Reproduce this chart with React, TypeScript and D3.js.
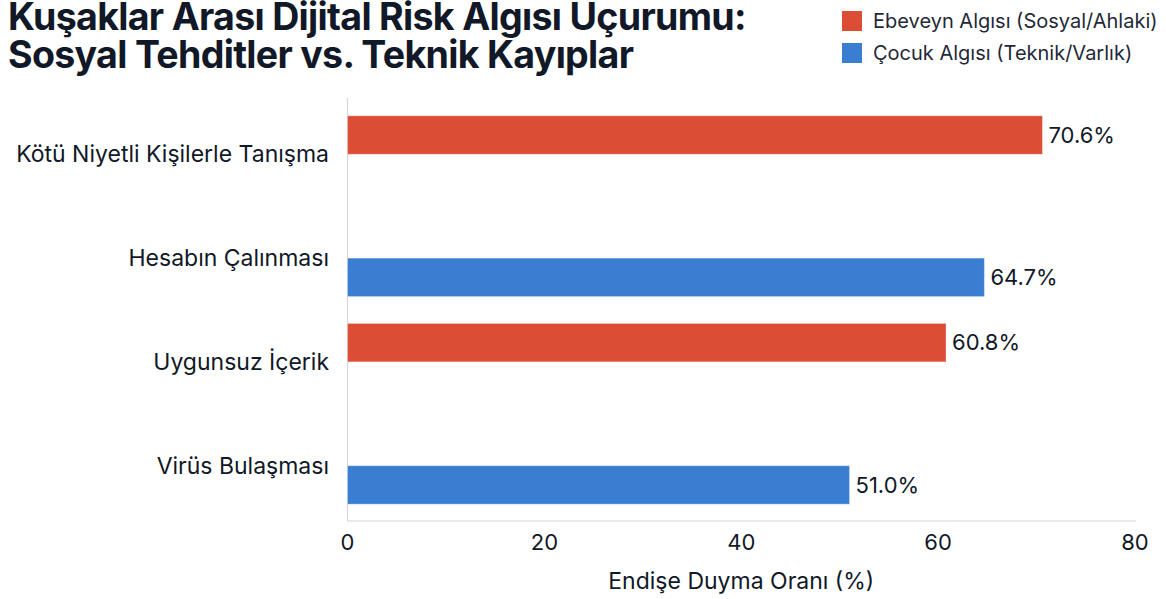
import React, { useLayoutEffect, useRef } from "react";
import * as d3 from "d3";

const categories = [
  "Kötü Niyetli Kişilerle Tanışma",
  "Hesabın Çalınması",
  "Uygunsuz İçerik",
  "Virüs Bulaşması",
];
const parentValues: (number | null)[] = [70.6, null, 60.8, null];
const childValues: (number | null)[] = [null, 64.7, null, 51.0];
const seriesNames = ["Ebeveyn Algısı (Sosyal/Ahlaki)", "Çocuk Algısı (Teknik/Varlık)"];
const seriesColors = ["#DC4D36", "#3A7ED2"];
const xTicks = [0, 20, 40, 60, 80];
const titleLines = ["Kuşaklar Arası Dijital Risk Algısı Uçurumu:", "Sosyal Tehditler vs. Teknik Kayıplar"];
const titleWidth = 738;
const xAxisTitle = "Endişe Duyma Oranı (%)";

const W = 1166;
const H = 599;
const FONT = "Inter, 'Noto Sans', sans-serif";
const TEXT = "#111827";
const TITLE_LS = -0.7;

export default function App() {
  const titleRef = useRef<SVGTextElement | null>(null);
  const firstLineRef = useRef<SVGTSpanElement | null>(null);

  useLayoutEffect(() => {
    const t = titleRef.current;
    const l0 = firstLineRef.current;
    if (!t || !l0) return;
    t.setAttribute("letter-spacing", "0");
    t.setAttribute("font-size", "32");
    const natural = l0.getComputedTextLength();
    const n = titleLines[0].length;
    const fs = (32 * (titleWidth - TITLE_LS * n)) / natural;
    t.setAttribute("font-size", String(fs));
    t.setAttribute("letter-spacing", String(TITLE_LS));
  }, []);

  const x = d3.scaleLinear().domain([0, 80]).range([347.5, 1135]);
  const y = d3.scaleBand<string>().domain(categories).range([102.4, 517.6]).padding(0);
  const sub = d3
    .scaleBand<string>()
    .domain(["parent", "child"])
    .range([0, y.bandwidth()])
    .paddingInner(0)
    .paddingOuter(0.348);

  const series = [
    { key: "parent", values: parentValues, color: seriesColors[0] },
    { key: "child", values: childValues, color: seriesColors[1] },
  ];
  const plotTop = 98;
  const plotBottom = 521;

  return (
    <svg
      width={W}
      height={H}
      style={{ position: "absolute", left: 0, top: 0, background: "#fff" }}
      fontFamily={FONT}
    >
      <rect width={W} height={H} fill="#fff" />
      <text ref={titleRef} x={8} y={30} fontSize={32} fontWeight={700} fill={TEXT}>
        <tspan ref={firstLineRef} x={8} y={30}>
          {titleLines[0]}
        </tspan>
        <tspan x={8} y={68}>
          {titleLines[1]}
        </tspan>
      </text>

      {seriesNames.map((n, i) => (
        <g key={n} transform={`translate(842, ${11 + i * 32})`}>
          <rect width={20} height={20} fill={seriesColors[i]} />
          <text x={31} y={10} dy="0.35em" fontSize={20} fill="#1f2937">
            {n}
          </text>
        </g>
      ))}

      {/* axis frame */}
      <line x1={x(0)} x2={x(0)} y1={plotTop} y2={plotBottom} stroke="#d6d6d6" strokeWidth={1.2} />
      <line x1={x(0)} x2={x(80) + 1} y1={plotBottom} y2={plotBottom} stroke="#d6d6d6" strokeWidth={1.2} />

      {/* bars */}
      {series.map((s) =>
        categories.map((c, i) => {
          const v = s.values[i];
          if (v == null) return null;
          const by = (y(c) as number) + (sub(s.key) as number);
          const bh = sub.bandwidth();
          return (
            <g key={s.key + c}>
              <rect
                x={x(0)}
                y={by}
                width={x(v) - x(0)}
                height={bh}
                fill={s.color}
                stroke="#ffffff"
                strokeOpacity={0.35}
                strokeWidth={1}
              />
              <text x={x(v) + 6} y={by + bh / 2} dy="0.35em" fontSize={22} fill={TEXT}>
                {v.toFixed(1)}%
              </text>
            </g>
          );
        })
      )}

      {/* category labels */}
      {categories.map((c) => (
        <text
          key={c}
          x={329}
          y={(y(c) as number) + y.bandwidth() / 2}
          dy="0.35em"
          textAnchor="end"
          fontSize={23}
          fill={TEXT}
        >
          {c}
        </text>
      ))}

      {/* x ticks */}
      {xTicks.map((t) => (
        <text key={t} x={x(t)} y={542} dy="0.35em" textAnchor="middle" fontSize={22} fill={TEXT}>
          {t}
        </text>
      ))}
      <text x={(x(0) + x(80)) / 2} y={581} dy="0.35em" textAnchor="middle" fontSize={23} fill={TEXT}>
        {xAxisTitle}
      </text>
    </svg>
  );
}
